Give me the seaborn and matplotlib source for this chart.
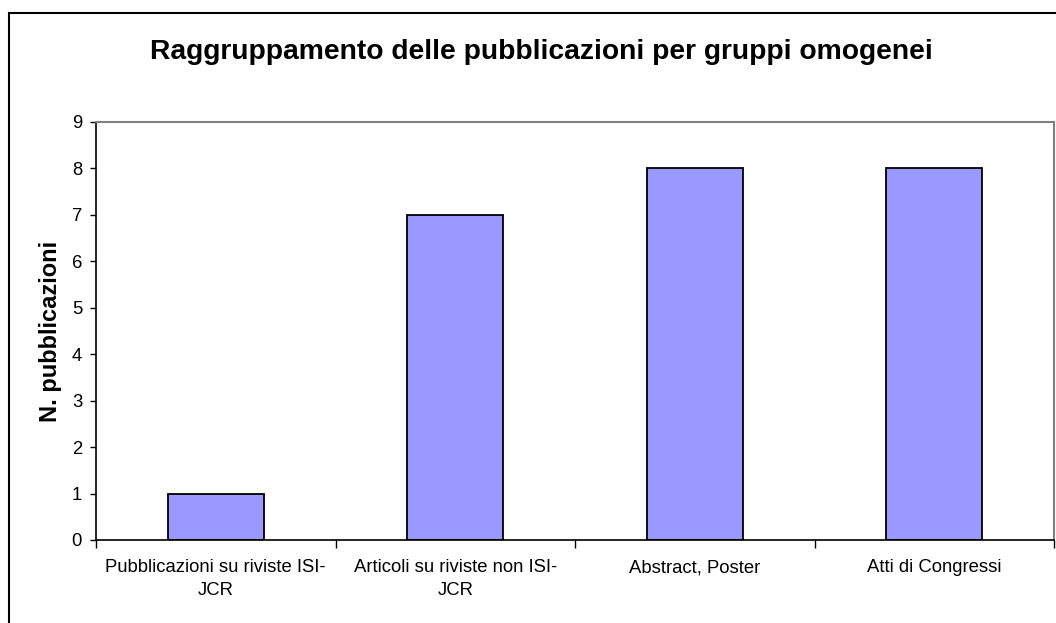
import matplotlib
matplotlib.use('Agg')
import matplotlib.pyplot as plt
import seaborn as sns
import pandas as pd
from matplotlib.patches import Rectangle

# Data
categories = ['Pubblicazioni su riviste ISI-\nJCR',
              'Articoli su riviste non ISI-\nJCR',
              'Abstract, Poster',
              'Atti di Congressi']
counts = [1, 7, 8, 8]

title = 'Raggruppamento delle pubblicazioni per gruppi omogenei'
ylabel = 'N. pubblicazioni'

sns.set_style('white')
plt.rcParams['font.family'] = ['Liberation Sans', 'DejaVu Sans']
plt.rcParams['text.color'] = 'black'
plt.rcParams['axes.labelcolor'] = 'black'
plt.rcParams['xtick.color'] = 'black'
plt.rcParams['ytick.color'] = 'black'

df = pd.DataFrame({'Categoria': categories, 'N': counts})

fig = plt.figure(figsize=(10.56, 6.23), dpi=100)
ax = fig.add_axes([96 / 1056, 1 - 540 / 623, (1054 - 96) / 1056, (540 - 122) / 623])

sns.barplot(data=df, x='Categoria', y='N', color='#9999FF', saturation=1,
            width=0.4, edgecolor='black', linewidth=1.3, ax=ax)

ax.set_xlim(-0.5, len(categories) - 0.5)
ax.set_ylim(0, 9)
ax.set_yticks(range(0, 10))

# major ticks at category boundaries, labels on minor ticks at centers
ax.set_xticks([i - 0.5 for i in range(len(categories) + 1)])
ax.set_xticklabels([])
ax.set_xticks(range(len(categories)), minor=True)
ax.set_xticklabels(categories, minor=True, fontsize=13.3, linespacing=1.45)
ax.tick_params(axis='x', which='major', direction='out', length=6, width=1, bottom=True)
ax.tick_params(axis='x', which='minor', length=0, pad=14)
ax.tick_params(axis='y', direction='out', length=4.5, width=1, left=True, labelsize=13.3, pad=5.5)

ax.set_xlabel('')
ax.set_ylabel(ylabel, fontsize=17, fontweight='bold', labelpad=7)

for side in ['left', 'bottom']:
    ax.spines[side].set_color('black')
    ax.spines[side].set_linewidth(1.2)
for side in ['top', 'right']:
    ax.spines[side].set_color('#808080')
    ax.spines[side].set_linewidth(1.5)

fig.text(541 / 1056, 1 - 52 / 623, title, ha='center', va='center',
         fontsize=20.3, fontweight='bold')

# outer chart frame
fig.patches.append(Rectangle((8.5 / 1056, -0.1), 1.2, 1 - 12.5 / 623 + 0.1,
                             transform=fig.transFigure, fill=False,
                             edgecolor='black', linewidth=1.5))

fig.savefig('out.png', dpi=100)
